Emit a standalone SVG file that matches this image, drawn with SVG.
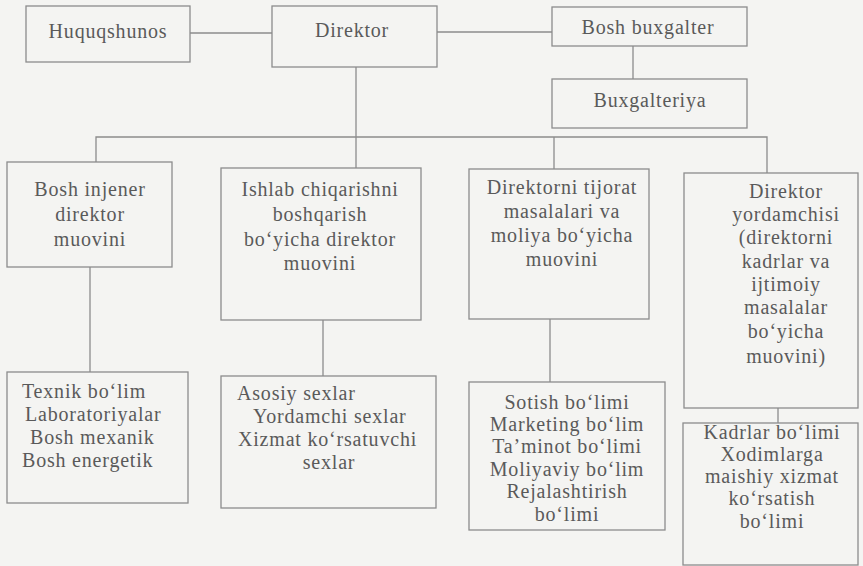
<svg xmlns="http://www.w3.org/2000/svg" width="863" height="566" viewBox="0 0 863 566">
<style>
.box{fill:none;stroke:#8c8c8c;stroke-width:1.3}
.ln{fill:none;stroke:#8c8c8c;stroke-width:1.3}
.t{font-family:'Liberation Serif','Times New Roman',serif;font-size:20px;fill:#5a5a5a;letter-spacing:0.8px}
.c{text-anchor:middle}
</style>
<rect width="863" height="566" fill="#f4f4f2"/>
<g id="connectors">
<path class="ln" d="M190,33 H272"/>
<path class="ln" d="M437,32 H552"/>
<path class="ln" d="M633,46 V79"/>
<path class="ln" d="M356,67 V137"/>
<path class="ln" d="M96,162 V137 H767 V173"/>
<path class="ln" d="M356,137 V168"/>
<path class="ln" d="M554,137 V169"/>
<path class="ln" d="M90,267 V372"/>
<path class="ln" d="M323,320 V376"/>
<path class="ln" d="M550,319 V382"/>
<path class="ln" d="M778,408 V423"/>
</g>
<g id="huquqshunos"><rect class="box" x="26" y="6" width="164" height="56"/><text class="t c" x="108" y="38">Huquqshunos</text></g>
<g id="direktor"><rect class="box" x="272" y="6" width="165" height="61"/><text class="t c" x="352" y="37">Direktor</text></g>
<g id="bosh-buxgalter"><rect class="box" x="552" y="7" width="195" height="39"/><text class="t c" x="648" y="34">Bosh buxgalter</text></g>
<g id="buxgalteriya"><rect class="box" x="552" y="79" width="195" height="49"/><text class="t c" x="650" y="107">Buxgalteriya</text></g>
<g id="bosh-injener"><rect class="box" x="7" y="162" width="165" height="105"/>
<text class="t c"><tspan x="90" y="196">Bosh injener</tspan><tspan x="90" y="221">direktor</tspan><tspan x="90" y="246">muovini</tspan></text></g>
<g id="ishlab"><rect class="box" x="221" y="168" width="200" height="152"/>
<text class="t c"><tspan x="320" y="196">Ishlab chiqarishni</tspan><tspan x="320" y="221">boshqarish</tspan><tspan x="320" y="246">bo‘yicha direktor</tspan><tspan x="320" y="270">muovini</tspan></text></g>
<g id="tijorat"><rect class="box" x="469" y="169" width="180" height="150"/>
<text class="t c"><tspan x="562" y="194">Direktorni tijorat</tspan><tspan x="562" y="218">masalalari va</tspan><tspan x="562" y="242">moliya bo‘yicha</tspan><tspan x="562" y="266">muovini</tspan></text></g>
<g id="yordamchisi"><rect class="box" x="684" y="173" width="174" height="235"/>
<text class="t c"><tspan x="786" y="198">Direktor</tspan><tspan x="786" y="221">yordamchisi</tspan><tspan x="786" y="244">(direktorni</tspan><tspan x="786" y="268">kadrlar va</tspan><tspan x="786" y="291">ijtimoiy</tspan><tspan x="786" y="314">masalalar</tspan><tspan x="786" y="338">bo‘yicha</tspan><tspan x="786" y="363">muovini)</tspan></text></g>
<g id="texnik"><rect class="box" x="7" y="372" width="181" height="131"/>
<text class="t"><tspan x="22" y="398">Texnik bo‘lim</tspan><tspan x="25" y="421">Laboratoriyalar</tspan><tspan x="30" y="444">Bosh mexanik</tspan><tspan x="22" y="467">Bosh energetik</tspan></text></g>
<g id="asosiy"><rect class="box" x="221" y="376" width="215" height="132"/>
<text class="t"><tspan x="237" y="400">Asosiy sexlar</tspan><tspan x="253" y="423">Yordamchi sexlar</tspan><tspan x="238" y="446">Xizmat ko‘rsatuvchi</tspan><tspan x="329" y="469" text-anchor="middle">sexlar</tspan></text></g>
<g id="sotish"><rect class="box" x="469" y="382" width="196" height="148"/>
<text class="t c"><tspan x="567" y="409">Sotish bo‘limi</tspan><tspan x="567" y="431">Marketing bo‘lim</tspan><tspan x="567" y="453">Ta’minot bo‘limi</tspan><tspan x="567" y="476">Moliyaviy bo‘lim</tspan><tspan x="567" y="498">Rejalashtirish</tspan><tspan x="567" y="521">bo‘limi</tspan></text></g>
<g id="kadrlar"><rect class="box" x="683" y="423" width="175" height="142"/>
<text class="t c"><tspan x="772" y="439">Kadrlar bo‘limi</tspan><tspan x="772" y="461">Xodimlarga</tspan><tspan x="772" y="483">maishiy xizmat</tspan><tspan x="772" y="505">ko‘rsatish</tspan><tspan x="772" y="528">bo‘limi</tspan></text></g>
</svg>
